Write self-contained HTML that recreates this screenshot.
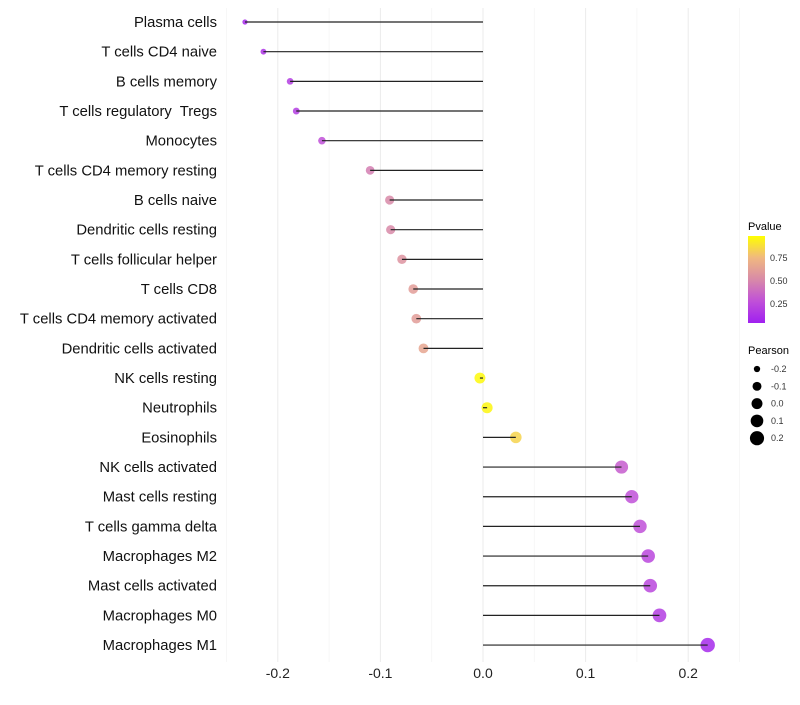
<!DOCTYPE html>
<html><head><meta charset="utf-8"><style>
body{margin:0;background:#fff;font-family:"Liberation Sans",sans-serif}
text{white-space:pre}
</style></head><body>
<svg id="chart" width="800" height="700" xmlns="http://www.w3.org/2000/svg">
<defs><linearGradient id="pg" x1="0" y1="1" x2="0" y2="0">
<stop offset="0" stop-color="#a020f0"/><stop offset="0.25" stop-color="#c050d8"/><stop offset="0.5" stop-color="#d88aa8"/><stop offset="0.75" stop-color="#f0b880"/><stop offset="1" stop-color="#ffff00"/></linearGradient></defs>
<g id="grid"></g><g id="marks"></g><g id="labels"></g>
<g>
<text x="748" y="230" font-size="11">Pvalue</text>
<rect x="748" y="236" width="17" height="87" fill="url(#pg)"/>
<g font-size="9" fill="#333"><text x="770" y="261">0.75</text><text x="770" y="284">0.50</text><text x="770" y="307">0.25</text></g>
</g>
<g id="sizeleg">
<text x="748" y="354" font-size="11">Pearson</text>
</g>
</svg>
<script>
const cells=["Plasma cells","T cells CD4 naive","B cells memory","T cells regulatory  Tregs","Monocytes","T cells CD4 memory resting","B cells naive","Dendritic cells resting","T cells follicular helper","T cells CD8","T cells CD4 memory activated","Dendritic cells activated","NK cells resting","Neutrophils","Eosinophils","NK cells activated","Mast cells resting","T cells gamma delta","Macrophages M2","Mast cells activated","Macrophages M0","Macrophages M1"];
const pearson=[-0.232,-0.214,-0.188,-0.182,-0.157,-0.110,-0.091,-0.090,-0.079,-0.068,-0.065,-0.058,-0.003,0.004,0.032,0.135,0.145,0.153,0.161,0.163,0.172,0.219];
const pvalue=[0.05,0.1,0.15,0.15,0.25,0.45,0.5,0.5,0.55,0.6,0.6,0.65,0.98,0.97,0.85,0.3,0.25,0.25,0.2,0.2,0.15,0.05];
const ticks=[-0.2,-0.1,0.0,0.1,0.2];
const tickLabels=["-0.2","-0.1","0.0","0.1","0.2"];
const legendVals=[-0.2,-0.1,0.0,0.1,0.2];
const NS="http://www.w3.org/2000/svg";
const X=v=>483+v*1026;
const Y=i=>22+i*29.67;
const R=v=>Math.sqrt(Math.max(1,30+100*v));
const stops=[[0,[160,32,240]],[0.25,[192,80,216]],[0.5,[216,138,168]],[0.75,[240,184,128]],[1,[255,255,0]]];
function col(p){for(let k=1;k<stops.length;k++){if(p<=stops[k][0]){const a=stops[k-1],b=stops[k],t=(p-a[0])/(b[0]-a[0]);return "rgb("+a[1].map((c,j)=>Math.round(c+(b[1][j]-c)*t)).join(",")+")";}}return "rgb(255,255,0)";}
function mk(t,at,parent){const e=document.createElementNS(NS,t);for(const k in at)e.setAttribute(k,at[k]);document.getElementById(parent).appendChild(e);return e;}
for(let v=-0.25;v<=0.251;v+=0.05){const major=Math.abs(Math.round(v*100))%10===0;
const g=mk("line",{x1:X(v),x2:X(v),y1:8,y2:662,stroke:major?"#ebebeb":"#f4f4f4","stroke-width":major?1:0.7},"grid");

}
ticks.forEach((t,i)=>{const e=mk("text",{x:X(t),y:678,"text-anchor":"middle","font-size":14,fill:"#222"},"labels");e.textContent=tickLabels[i];

});
cells.forEach((c,i)=>{const y=Y(i);
const t=mk("text",{x:217,y:y+5,"text-anchor":"end","font-size":14.8,fill:"#111"},"labels");t.textContent=c;


const p=mk("circle",{cx:X(pearson[i]),cy:y,r:R(pearson[i]),fill:col(pvalue[i]),"fill-opacity":0.85},"marks");


const s=mk("line",{x1:X(0),x2:X(pearson[i]),y1:y,y2:y,stroke:"#222","stroke-width":1.2},"marks");

});
legendVals.forEach((v,i)=>{const y=369+i*17.3;
const c=mk("circle",{cx:757,cy:y,r:R(v),fill:"#000"},"sizeleg");


const t=mk("text",{x:771,y:y+3,"font-size":9,fill:"#333"},"sizeleg");t.textContent=v.toFixed(1);

});
</script>
</body></html>
